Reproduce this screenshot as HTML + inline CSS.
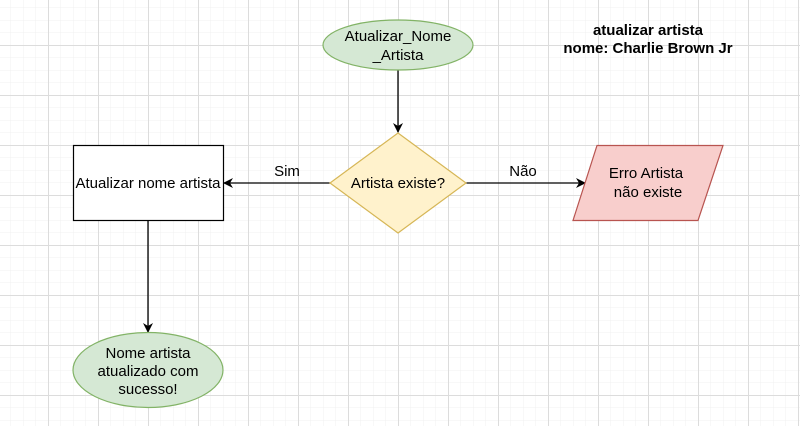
<!DOCTYPE html>
<html><head><meta charset="utf-8"><style>
html,body{margin:0;padding:0;background:#fff;}
svg{display:block;font-family:"Liberation Sans",Arial,sans-serif;}
</style></head><body>
<svg width="800" height="426" viewBox="0 0 800 426" xmlns="http://www.w3.org/2000/svg">
<defs>
<pattern id="minor" x="-2" y="-5" width="12.5" height="12.5" patternUnits="userSpaceOnUse">
<path d="M0 0H12.5M0 0V12.5" stroke="#f0f0f0" stroke-width="1" fill="none"/>
</pattern>
<pattern id="major" x="-2" y="-5" width="50" height="50" patternUnits="userSpaceOnUse">
<path d="M0 0.5H50M0.5 0V50" stroke="#dcdcdc" stroke-width="1" fill="none"/>
</pattern>
<marker id="ah" markerWidth="10" markerHeight="10" refX="9" refY="5" orient="auto" markerUnits="userSpaceOnUse">
<path d="M0 0L10 5L0 10L3 5Z" fill="#000"/>
</marker>
</defs>
<rect width="800" height="426" fill="url(#minor)"/>
<rect width="800" height="426" fill="url(#major)"/>

<g stroke="#000" stroke-width="1.3" fill="none">
<line x1="398" y1="70" x2="398" y2="132" marker-end="url(#ah)"/>
<line x1="330" y1="183" x2="224" y2="183" marker-end="url(#ah)"/>
<line x1="466" y1="183" x2="585" y2="183" marker-end="url(#ah)"/>
<line x1="148" y1="220" x2="148" y2="332" marker-end="url(#ah)"/>
</g>

<ellipse cx="398" cy="45" rx="75" ry="25" fill="#d5e8d4" stroke="#82b366" stroke-width="1.2"/>
<polygon points="398,133 466,183 398,233 330,183" fill="#fff2cc" stroke="#d6b656" stroke-width="1.2"/>
<rect x="73.5" y="145.5" width="150" height="75" fill="#fff" stroke="#000" stroke-width="1.2"/>
<polygon points="597,145.5 723,145.5 698,220.5 573,220.5" fill="#f8cecc" stroke="#b85450" stroke-width="1.2"/>
<ellipse cx="148" cy="370" rx="75" ry="37.5" fill="#d5e8d4" stroke="#82b366" stroke-width="1.2"/>

<g font-size="15" fill="#000" text-anchor="middle">
<text x="398" y="41">Atualizar_Nome</text>
<text x="398" y="60">_Artista</text>
<text x="398" y="188">Artista existe?</text>
<text x="148" y="188">Atualizar nome artista</text>
<text x="646" y="178">Erro Artista</text>
<text x="648" y="197">não existe</text>
<text x="148" y="358">Nome artista</text>
<text x="148" y="376">atualizado com</text>
<text x="148" y="394">sucesso!</text>
<text x="287" y="176">Sim</text>
<text x="523" y="176">Não</text>
</g>
<g font-size="15" font-weight="bold" fill="#000" text-anchor="middle">
<text x="648" y="35">atualizar artista</text>
<text x="648" y="53">nome: Charlie Brown Jr</text>
</g>
</svg>
</body></html>
